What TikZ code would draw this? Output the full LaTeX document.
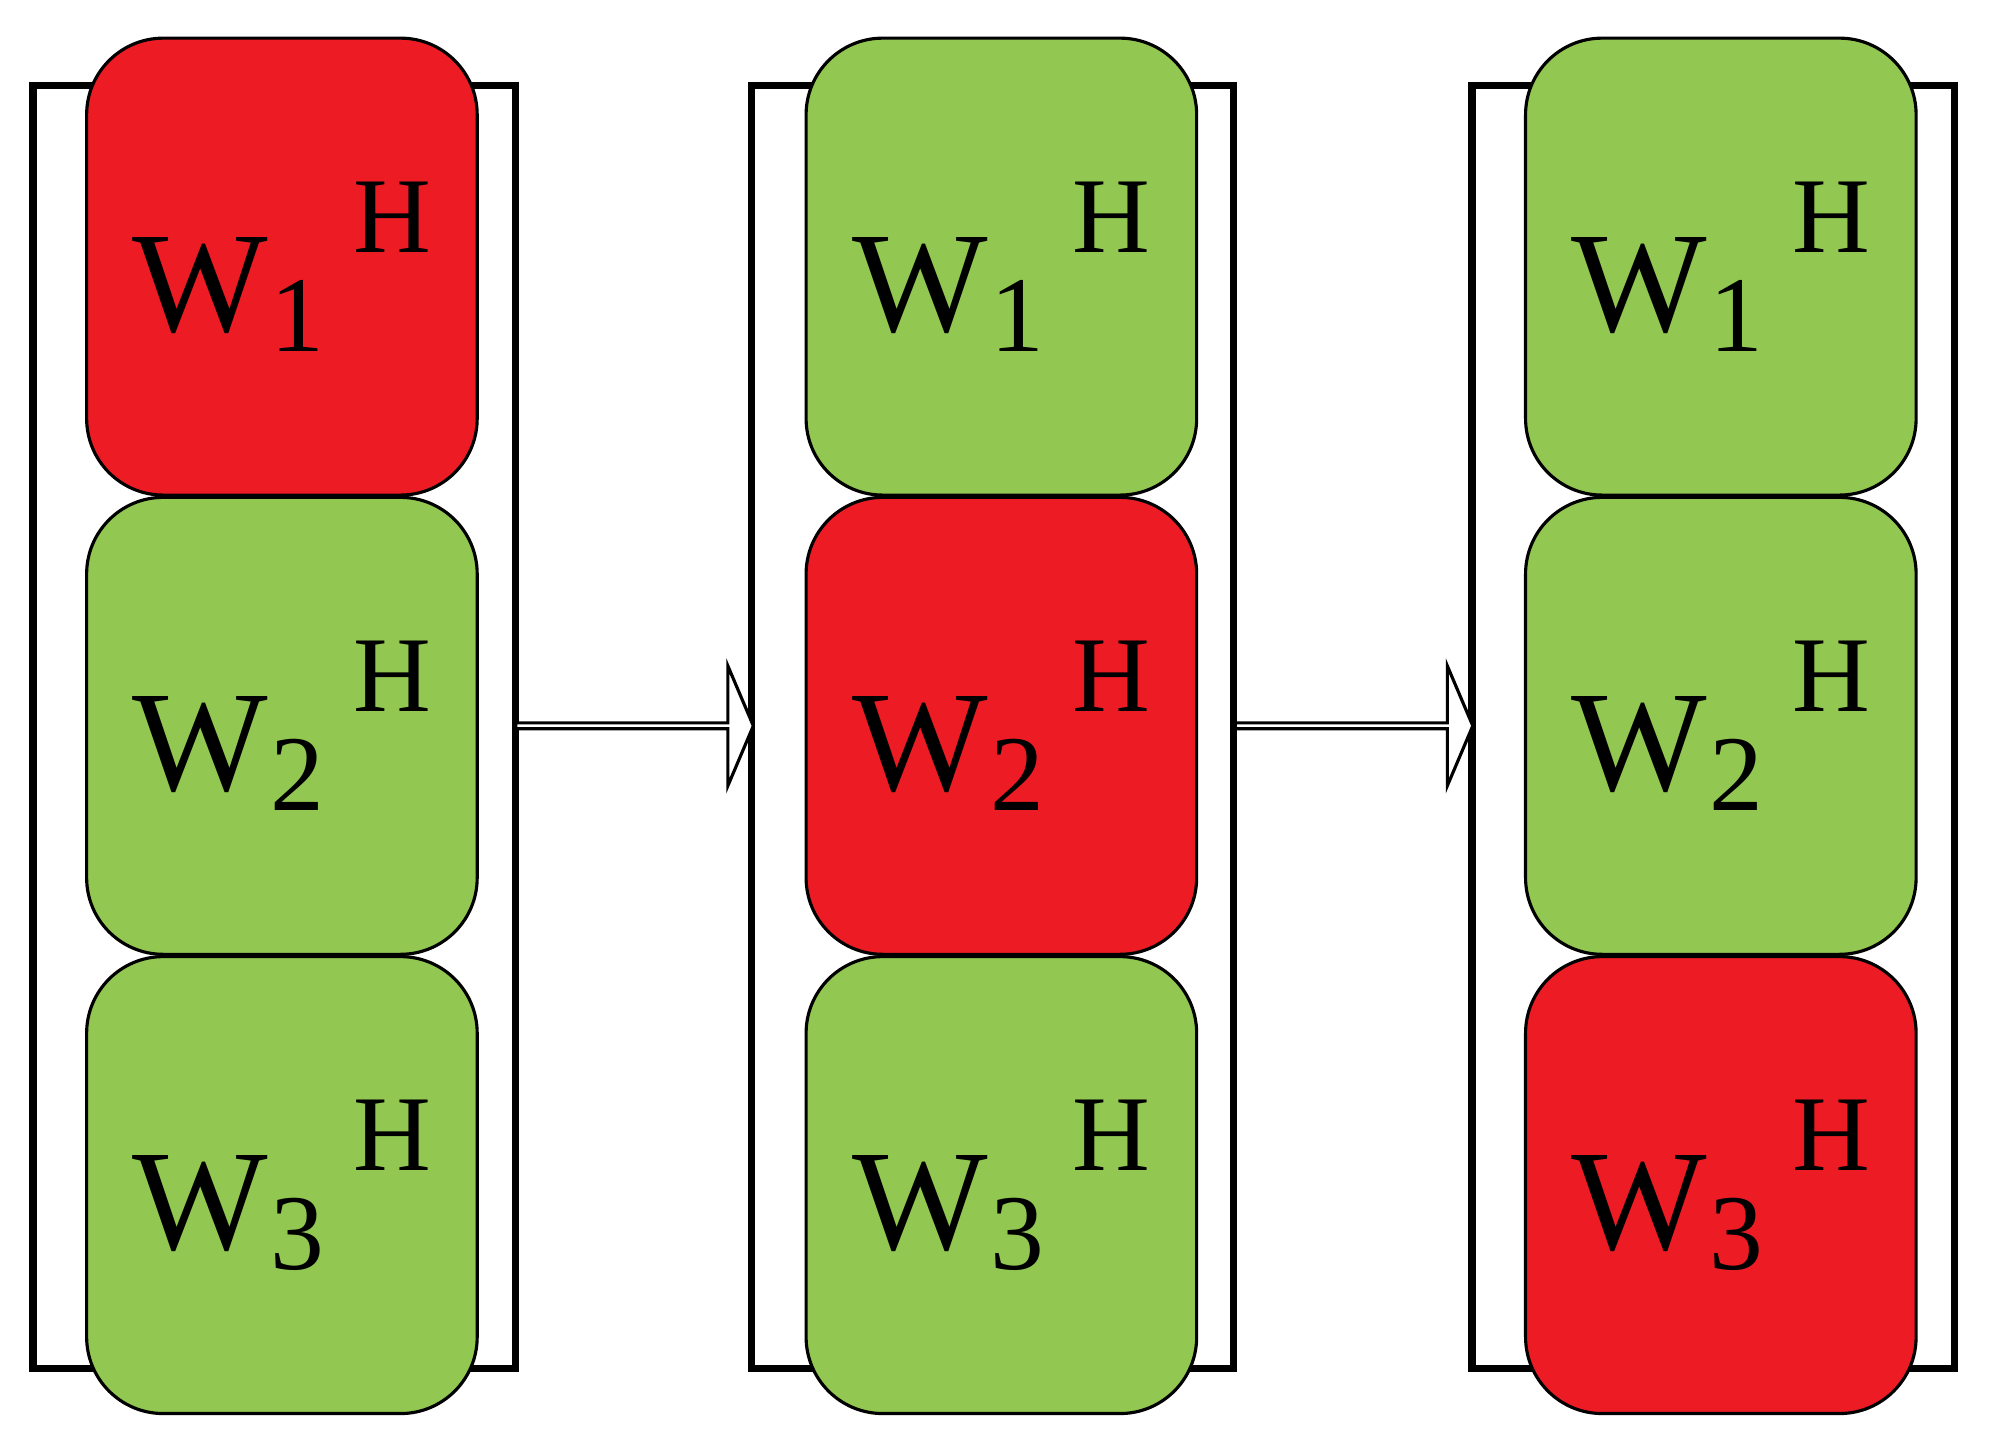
\documentclass[tikz,border=0pt]{standalone}
\usepackage{fontspec}
\setmainfont{Liberation Serif}
\usetikzlibrary{shapes.arrows}
\definecolor{hotcolor}{HTML}{ED1C24}
\definecolor{coolcolor}{HTML}{92C851}
\newcommand{\wlab}[1]{\fontsize{32}{36}\selectfont W\kern0.02em\raisebox{-0.14em}{\fontsize{24}{26}\selectfont #1}\kern0.2em\raisebox{0.55em}{\fontsize{24}{26}\selectfont H}}
\begin{document}
\begin{tikzpicture}[x=0.01cm,y=0.01cm]
	\tikzstyle{frame}=[draw, line width=1.6pt, minimum width=3.78cm, minimum height=10.05cm, inner sep=0pt]
	\tikzstyle{cell}=[draw, line width=0.7pt, rounded corners=0.6cm, minimum width=3.06cm, minimum height=3.58cm, inner sep=0pt]
	\tikzstyle{stepper}=[draw, line width=0.7pt, fill=white, single arrow, single arrow head extend=0.24cm, single arrow tip angle=134, minimum height=1.86cm, minimum width=0.94cm, inner sep=0pt]
	\useasboundingbox (0,0) rectangle (1560,1132);
	% frames
	\node (frame1)[frame] at (215,562) {};
	\node (frame2)[frame] at (778,562) {};
	\node (frame3)[frame] at (1343,562) {};
	% first column
	\node (a1)[cell, fill=hotcolor] at (221,923) {\wlab{1}};
	\node (a2)[cell, fill=coolcolor] at (221,563) {\wlab{2}};
	\node (a3)[cell, fill=coolcolor] at (221,203) {\wlab{3}};
	% second column
	\node (b1)[cell, fill=coolcolor] at (785,923) {\wlab{1}};
	\node (b2)[cell, fill=hotcolor] at (785,563) {\wlab{2}};
	\node (b3)[cell, fill=coolcolor] at (785,203) {\wlab{3}};
	% third column
	\node (c1)[cell, fill=coolcolor] at (1349,923) {\wlab{1}};
	\node (c2)[cell, fill=coolcolor] at (1349,563) {\wlab{2}};
	\node (c3)[cell, fill=hotcolor] at (1349,203) {\wlab{3}};
	% steps
	\node (step1)[stepper] at (497,563) {};
	\node (step2)[stepper] at (1061,563) {};
\end{tikzpicture}
\end{document}
